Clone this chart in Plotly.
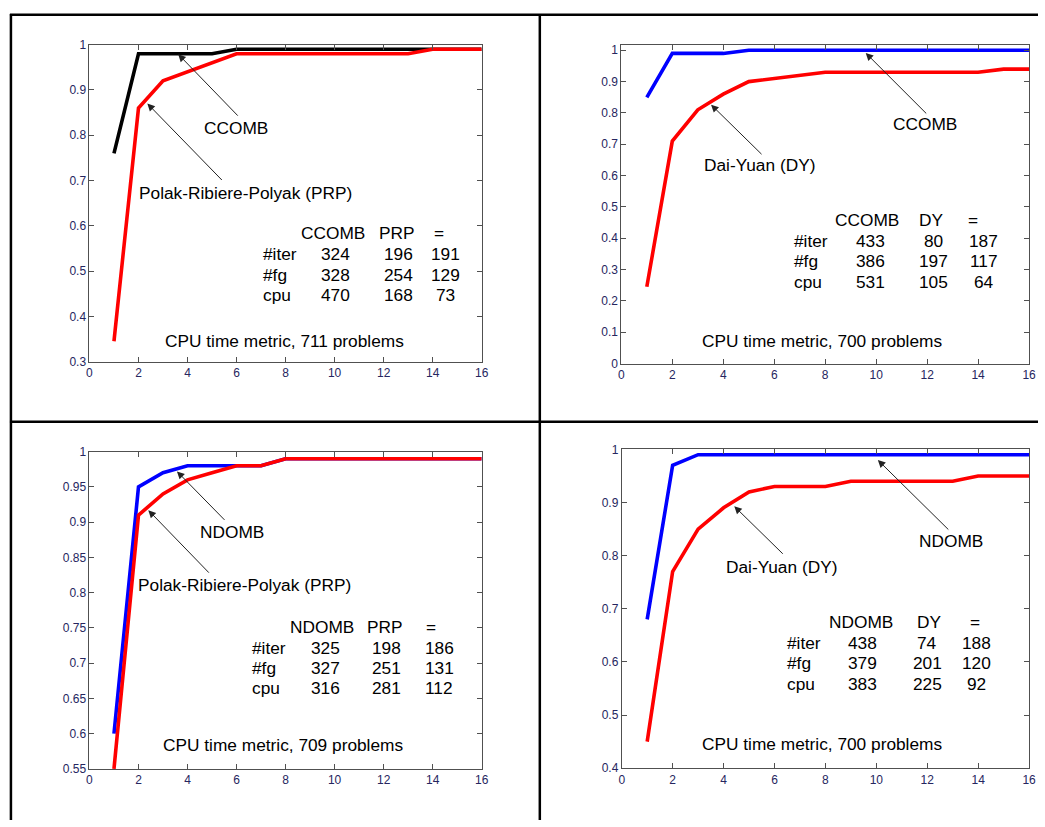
import plotly.graph_objects as go

W, H = 1045, 827

# ---------------- data ----------------
x_vals = list(range(1, 17))

# Panel 1: CCOMB vs PRP
p1_ccomb = [0.76, 0.98, 0.98, 0.98, 0.98, 0.99, 0.99, 0.99, 0.99, 0.99, 0.99, 0.99, 0.99, 0.99, 0.99, 0.99]
p1_prp = [0.345, 0.86, 0.92, 0.94, 0.96, 0.98, 0.98, 0.98, 0.98, 0.98, 0.98, 0.98, 0.98, 0.99, 0.99, 0.99]

# Panel 2: CCOMB vs DY
p2_ccomb = [0.85, 0.99, 0.99, 0.99, 1.0, 1.0, 1.0, 1.0, 1.0, 1.0, 1.0, 1.0, 1.0, 1.0, 1.0, 1.0]
p2_dy = [0.245, 0.71, 0.81, 0.86, 0.90, 0.91, 0.92, 0.93, 0.93, 0.93, 0.93, 0.93, 0.93, 0.93, 0.94, 0.94]

# Panel 3: NDOMB vs PRP
p3_ndomb = [0.60, 0.95, 0.97, 0.98, 0.98, 0.98, 0.98, 0.99, 0.99, 0.99, 0.99, 0.99, 0.99, 0.99, 0.99, 0.99]
p3_prp = [0.55, 0.91, 0.94, 0.96, 0.97, 0.98, 0.98, 0.99, 0.99, 0.99, 0.99, 0.99, 0.99, 0.99, 0.99, 0.99]

# Panel 4: NDOMB vs DY
p4_ndomb = [0.68, 0.97, 0.99, 0.99, 0.99, 0.99, 0.99, 0.99, 0.99, 0.99, 0.99, 0.99, 0.99, 0.99, 0.99, 0.99]
p4_dy = [0.45, 0.77, 0.85, 0.89, 0.92, 0.93, 0.93, 0.93, 0.94, 0.94, 0.94, 0.94, 0.94, 0.95, 0.95, 0.95]

# tick labels
x_ticks = [0, 2, 4, 6, 8, 10, 12, 14, 16]
x_ticktext = ["0", "2", "4", "6", "8", "10", "12", "14", "16"]
y1_ticks = [0.3, 0.4, 0.5, 0.6, 0.7, 0.8, 0.9, 1.0]
y1_text = ["0.3", "0.4", "0.5", "0.6", "0.7", "0.8", "0.9", "1"]
y2_ticks = [0, 0.1, 0.2, 0.3, 0.4, 0.5, 0.6, 0.7, 0.8, 0.9, 1.0]
y2_text = ["0", "0.1", "0.2", "0.3", "0.4", "0.5", "0.6", "0.7", "0.8", "0.9", "1"]
y3_ticks = [0.55, 0.6, 0.65, 0.7, 0.75, 0.8, 0.85, 0.9, 0.95, 1.0]
y3_text = ["0.55", "0.6", "0.65", "0.7", "0.75", "0.8", "0.85", "0.9", "0.95", "1"]
y4_ticks = [0.4, 0.5, 0.6, 0.7, 0.8, 0.9, 1.0]
y4_text = ["0.4", "0.5", "0.6", "0.7", "0.8", "0.9", "1"]

# tables
t1_head = ["CCOMB", "PRP", "="]
t1_rows = [["#iter", "324", "196", "191"], ["#fg", "328", "254", "129"], ["cpu", "470", "168", "73"]]
t2_head = ["CCOMB", "DY", "="]
t2_rows = [["#iter", "433", "80", "187"], ["#fg", "386", "197", "117"], ["cpu", "531", "105", "64"]]
t3_head = ["NDOMB", "PRP", "="]
t3_rows = [["#iter", "325", "198", "186"], ["#fg", "327", "251", "131"], ["cpu", "316", "281", "112"]]
t4_head = ["NDOMB", "DY", "="]
t4_rows = [["#iter", "438", "74", "188"], ["#fg", "379", "201", "120"], ["cpu", "383", "225", "92"]]

titles = ["CPU time metric, 711 problems", "CPU time metric, 700 problems",
          "CPU time metric, 709 problems", "CPU time metric, 700 problems"]

FONT = "Liberation Sans, Arial, sans-serif"
TICKCOL = "#262660"
AXCOL = "#505050"
TXT = 17.3


def px(x):
    return x / W


def py(y):
    return 1 - y / H


fig = go.Figure()

LW = 3.6
fig.add_trace(go.Scatter(x=x_vals, y=p1_ccomb, mode="lines", line=dict(color="black", width=LW), xaxis="x", yaxis="y"))
fig.add_trace(go.Scatter(x=x_vals, y=p1_prp, mode="lines", line=dict(color="#ff0000", width=LW), xaxis="x", yaxis="y"))
fig.add_trace(go.Scatter(x=x_vals, y=p2_ccomb, mode="lines", line=dict(color="#0000ff", width=LW), xaxis="x2", yaxis="y2"))
fig.add_trace(go.Scatter(x=x_vals, y=p2_dy, mode="lines", line=dict(color="#ff0000", width=LW), xaxis="x2", yaxis="y2"))
fig.add_trace(go.Scatter(x=x_vals, y=p3_ndomb, mode="lines", line=dict(color="#0000ff", width=LW), xaxis="x3", yaxis="y3"))
fig.add_trace(go.Scatter(x=x_vals, y=p3_prp, mode="lines", line=dict(color="#ff0000", width=LW), xaxis="x3", yaxis="y3"))
fig.add_trace(go.Scatter(x=x_vals, y=p4_ndomb, mode="lines", line=dict(color="#0000ff", width=LW), xaxis="x4", yaxis="y4"))
fig.add_trace(go.Scatter(x=x_vals, y=p4_dy, mode="lines", line=dict(color="#ff0000", width=LW), xaxis="x4", yaxis="y4"))


def xax(dom, anchor):
    return dict(domain=[px(dom[0]), px(dom[1])], range=[0, 16], anchor=anchor,
                tickvals=x_ticks, ticktext=x_ticktext, ticks="inside", ticklen=5,
                tickcolor=AXCOL, showline=True, linecolor=AXCOL, linewidth=1, mirror="ticks",
                showgrid=False, zeroline=False, tickfont=dict(family=FONT, size=12, color=TICKCOL))


def yax(dom, rng, tv, tt, anchor):
    return dict(domain=[py(dom[1]), py(dom[0])], range=rng, anchor=anchor,
                tickvals=tv, ticktext=tt, ticks="inside", ticklen=5,
                tickcolor=AXCOL, showline=True, linecolor=AXCOL, linewidth=1, mirror="ticks",
                showgrid=False, zeroline=False, tickfont=dict(family=FONT, size=12, color=TICKCOL))


annotations = []


def text(x, y, s, anchor="center"):
    annotations.append(dict(x=px(x), y=py(y), xref="paper", yref="paper", text=s, showarrow=False,
                            xanchor=anchor, yanchor="middle", font=dict(family=FONT, size=TXT, color="black")))


def arrow(xr, yr, x, y, ax, ay):
    annotations.append(dict(x=x, y=y, xref=xr, yref=yr, ax=ax, ay=ay, text="", showarrow=True,
                            arrowhead=2, arrowsize=1.5, arrowwidth=1, arrowcolor="#222222", standoff=0))


def table(head, rows, lab_x, head_x, num_x, head_y, row_y):
    for s, cx in zip(head, head_x):
        text(cx, head_y, s)
    for r, yy in zip(rows, row_y):
        text(lab_x, yy, r[0], "left")
        for s, cx in zip(r[1:], num_x):
            text(cx, yy, s)


# Panel 1
arrow("x", "y", 3.62, 0.979, 61, 63)
arrow("x", "y", 2.36, 0.870, 76, 78)
text(235, 122.7, "CCOMB")
text(245, 189, "Polak-Ribiere-Polyak (PRP)")
table(t1_head, t1_rows, 260, [333, 398, 440], [336, 399, 447], 230, [251.7, 272.7, 293.3])
text(284, 339.3, titles[0])

# Panel 2
arrow("x2", "y2", 9.59, 0.9915, 62, 62)
arrow("x2", "y2", 3.52, 0.8265, 52, 51)
text(930.7, 119.3, "CCOMB")
text(764, 161, "Dai-Yuan (DY)")
table(t2_head, t2_rows, 796.7, [872.7, 937.3, 979.3], [876, 939.3, 990], 216.7, [237.7, 258.7, 279.3])
text(827.3, 339.3, titles[1])

# Panel 3
arrow("x3", "y3", 3.57, 0.972, 49, 50)
arrow("x3", "y3", 2.40, 0.917, 62, 64)
text(231.7, 534.3, "NDOMB")
text(244.3, 587.7, "Polak-Ribiere-Polyak (PRP)")
table(t3_head, t3_rows, 249.3, [322, 386, 432.3], [325.3, 387.7, 440.7], 630.7, [651.7, 672.3, 693])
text(282.7, 750.7, titles[2])

# Panel 4
arrow("x4", "y4", 10.06, 0.980, 72, 71)
arrow("x4", "y4", 4.42, 0.893, 50, 49)
text(956.7, 543.3, "NDOMB")
text(786, 569.3, "Dai-Yuan (DY)")
table(t4_head, t4_rows, 790, [866, 935, 981], [868.3, 933.3, 983.3], 625.7, [646.7, 667.7, 688.3])
text(827.3, 750, titles[3])

# table borders
shapes = []
def hline(y, x0, x1):
    shapes.append(dict(type="line", xref="paper", yref="paper", x0=px(x0), x1=px(x1), y0=py(y), y1=py(y),
                       line=dict(color="black", width=2.5)))
def vline(x, y0, y1):
    shapes.append(dict(type="line", xref="paper", yref="paper", x0=px(x), x1=px(x), y0=py(y0), y1=py(y1),
                       line=dict(color="black", width=2.5)))

hline(8, 7, 1045)
hline(422, 7, 1045)
vline(8, 7, 827)
vline(542, 7, 827)

fig.update_layout(
    width=W, height=H, autosize=False,
    margin=dict(l=0, r=0, t=0, b=0),
    paper_bgcolor="white", plot_bgcolor="white",
    showlegend=False,
    xaxis=xax([87.3, 483.3], "y"),
    yaxis=yax([38.3, 360.7], [0.3, 1.0], y1_ticks, y1_text, "x"),
    xaxis2=xax([624.3, 1036], "y2"),
    yaxis2=yax([38.3, 362.7], [0, 1.018], y2_ticks, y2_text, "x2"),
    xaxis3=xax([87.3, 483.3], "y3"),
    yaxis3=yax([452.3, 775], [0.55, 1.0], y3_ticks, y3_text, "x3"),
    xaxis4=xax([624.7, 1036], "y4"),
    yaxis4=yax([450, 774.3], [0.4, 1.0], y4_ticks, y4_text, "x4"),
    annotations=annotations,
    shapes=shapes,
)

fig.write_html("out.html")
